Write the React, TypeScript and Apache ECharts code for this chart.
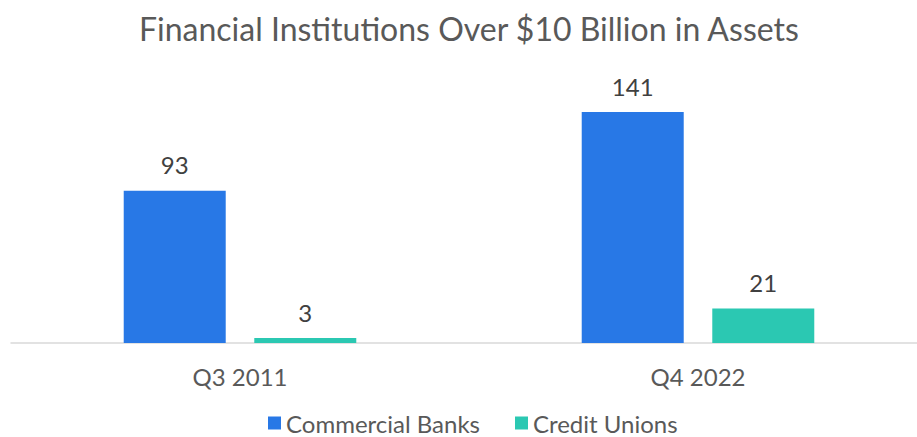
import React, { useEffect, useRef } from "react";
import * as echarts from "echarts";

const categories = ["Q3 2011", "Q4 2022"];
const commercialBanks = [93, 141];
const creditUnions = [3, 21];
const seriesNames = ["Commercial Banks", "Credit Unions"];
const titleText = "Financial Institutions Over $10 Billion in Assets";

export default function App() {
  const ref = useRef<HTMLDivElement>(null);
  useEffect(() => {
    if (!ref.current) return;
    const chart = echarts.init(ref.current, null, { renderer: "svg" });
    const font = "Lato";
    chart.setOption({
      animation: false,
      backgroundColor: "#ffffff",
      textStyle: { fontFamily: font },
      title: {
        text: titleText,
        left: 134,
        top: 7,
        textStyle: { fontFamily: font, fontSize: 32, fontWeight: "normal", color: "#595959" },
      },
      legend: {
        top: 406,
        left: 263,
        itemWidth: 13,
        itemHeight: 13,
        itemGap: 35,
        icon: "rect",
        textStyle: { fontFamily: font, fontSize: 24, color: "#595959" },
        data: seriesNames,
      },
      grid: { left: 11, top: 81, width: 916, height: 262, containLabel: false, outerBoundsMode: "none" },
      xAxis: {
        type: "category",
        data: categories,
        axisTick: { show: false },
        axisLine: { lineStyle: { color: "#D9D9D9", width: 1.5 } },
        axisLabel: { fontFamily: font, fontSize: 24, color: "#595959", margin: 21 },
      },
      yAxis: {
        type: "value",
        min: 0,
        max: 160,
        show: false,
        splitLine: { show: false },
      },
      series: [
        {
          name: seriesNames[0],
          type: "bar",
          data: commercialBanks,
          barWidth: 102,
          barGap: "28%",
          itemStyle: { color: "#2878E6" },
          label: { show: true, position: "top", distance: 14, fontFamily: font, fontSize: 24, color: "#404040" },
        },
        {
          name: seriesNames[1],
          type: "bar",
          data: creditUnions,
          barWidth: 102,
          barGap: "28%",
          itemStyle: { color: "#2BC8B2" },
          label: { show: true, position: "top", distance: 14, fontFamily: font, fontSize: 24, color: "#404040" },
        },
      ],
    });
    return () => chart.dispose();
  }, []);
  return (
    <div
      ref={ref}
      style={{ position: "absolute", left: 0, top: 0, width: 917, height: 437, overflow: "hidden" }}
    />
  );
}
